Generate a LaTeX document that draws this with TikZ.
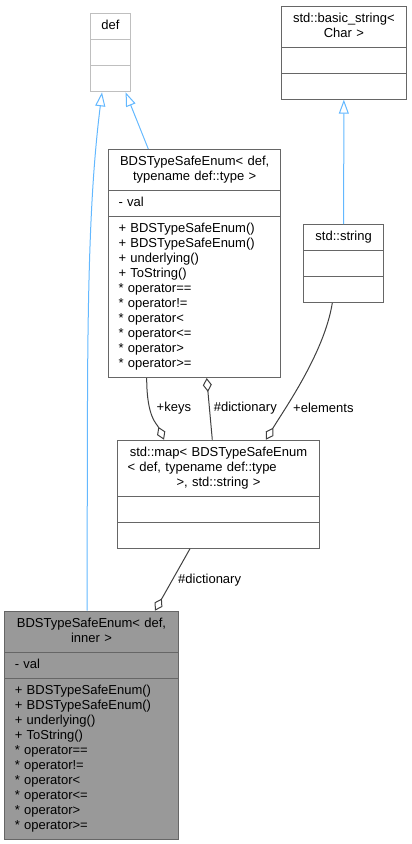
\documentclass[tikz,border=0pt]{standalone}
\usepackage{fontspec}
\setmainfont{Liberation Sans}
\usepackage{tikz}
\usetikzlibrary{arrows.meta}
\usetikzlibrary{shapes.multipart}
\definecolor{clsborder}{HTML}{666666}
\definecolor{defborder}{HTML}{BFBFBF}
\definecolor{clsfill}{HTML}{999999}
\definecolor{inhcolor}{HTML}{63B8FF}
\definecolor{aggrcolor}{HTML}{404040}
\newcommand{\ctr}[1]{\makebox[\hsize][c]{\strut#1}}
\newcommand{\bdsattrs}{\strut - val}
\newcommand{\bdsops}{\strut + BDSTypeSafeEnum()\\
	\strut + BDSTypeSafeEnum()\\
	\strut + underlying()\\
	\strut + ToString()\\
	\strut * operator==\\
	\strut * operator!=\\
	\strut * operator<\\
	\strut * operator<=\\
	\strut * operator>\\
	\strut * operator>=}

\begin{document}
\begin{tikzpicture}[x=1pt,y=-1pt,
	cls/.style={rectangle split,rectangle split parts=3,draw=clsborder,fill=white,line width=1pt,anchor=north west,inner xsep=10pt,inner ysep=5pt,align=left,text width=#1,font=\fontsize{13}{15}\selectfont},
	inh/.style={inhcolor,line width=1pt,-{Triangle[length=14pt,width=10pt,fill=white]}},
	aggr/.style={aggrcolor,line width=1pt,-{Diamond[length=14pt,width=9pt,fill=white]}},
	lbl/.style={anchor=west,inner sep=0pt,font=\fontsize{13}{15}\selectfont}]
	\useasboundingbox (0,0) rectangle (412,844);
	% classes
	\node[cls=19.4pt,draw=defborder] (def) at (90.3,13.3)
		{\ctr{def} \nodepart{two}\strut \nodepart{three}\strut};
	\node[cls=105.3pt] (basicstr) at (280.7,5.7)
		{\ctr{std::basic\_string<}\\\ctr{Char >} \nodepart{two}\strut \nodepart{three}\strut};
	\node[cls=152.3pt] (bdstype) at (108,149)
		{\ctr{BDSTypeSafeEnum< def,}\\\ctr{typename def::type >} \nodepart{two}\bdsattrs \nodepart{three}\bdsops};
	\node[cls=59.7pt] (stdstr) at (303.3,224)
		{\ctr{std::string} \nodepart{two}\strut \nodepart{three}\strut};
	\node[cls=182pt] (stdmap) at (117,439.7)
		{\ctr{std::map< BDSTypeSafeEnum}\\\makebox[\hsize][l]{\strut< def, typename def::type}\\\ctr{>, std::string >} \nodepart{two}\strut \nodepart{three}\strut};
	\node[cls=153.4pt,fill=clsfill] (bdsinner) at (4.3,610.7)
		{\ctr{BDSTypeSafeEnum< def,}\\\ctr{inner >} \nodepart{two}\bdsattrs \nodepart{three}\bdsops};
	% inheritance
	\draw[inh] ([xshift=82.7pt]bdsinner.north west) -- ++(0.5,-210) .. controls +(0.5,-150) and +(-10,80) .. ([xshift=11.7pt]def.south west);
	\draw[inh] ([xshift=40.3pt]bdstype.north west) -- ([xshift=35.3pt]def.south west);
	\draw[inh] (stdstr.north) -- (basicstr.south);
	% aggregation
	\draw[aggr] ([xshift=38.7pt]bdstype.south west) .. controls +(0,40) and +(-7,-16) .. ([xshift=47pt]stdmap.north west);
	\draw[aggr] ([xshift=95.3pt]stdmap.north west) -- ([xshift=98.7pt]bdstype.south west);
	\draw[aggr] ([xshift=29pt]stdstr.south west) .. controls +(-8,50) and +(18,-30) .. ([xshift=149pt]stdmap.north west);
	\draw[aggr] ([xshift=73pt]stdmap.south west) -- ([xshift=150.7pt]bdsinner.north west);
	% labels
	\node[lbl] (keyslbl) at (156.5,408.3) {+keys};
	\node[lbl] (dictlbl) at (213.7,408.3) {\#dictionary};
	\node[lbl] (elemlbl) at (293,408.3) {+elements};
	\node[lbl] (innerlbl) at (178,580) {\#dictionary};
\end{tikzpicture}
\end{document}
